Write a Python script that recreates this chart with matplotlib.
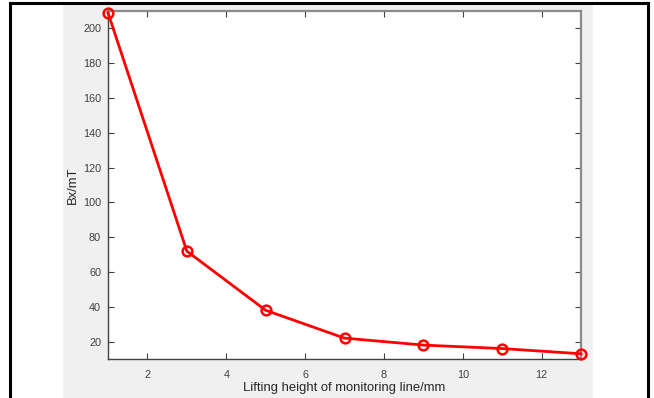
import matplotlib
matplotlib.use("Agg")
import matplotlib.pyplot as plt
from matplotlib.lines import Line2D

# Lifting height of the monitoring line (mm) and the measured Bx (mT)
heights = [1, 3, 5, 7, 9, 11, 13]
bx_values = [209, 72, 38, 22, 18, 16, 13]

x_ticks = [2, 4, 6, 8, 10, 12]
y_ticks = [20, 40, 60, 80, 100, 120, 140, 160, 180, 200]

x_label = "Lifting height of monitoring line/mm"
y_label = "Bx/mT"

W, H = 654, 398
fig = plt.figure(figsize=(W / 100, H / 100), dpi=100)
fig.patch.set_facecolor("white")
plt.rcParams["font.family"] = ["Liberation Sans", "DejaVu Sans"]

# grey figure panel
panel = plt.Rectangle((63 / W, 0), (593 - 63) / W, 1 - 4 / H,
                      transform=fig.transFigure, facecolor="#f0f0f0",
                      edgecolor="none", zorder=0)
fig.add_artist(panel)

# surrounding table rules
for xy in [([10 / W, 10 / W], [0, 1 - 3 / H]),
           ([648 / W, 648 / W], [0, 1 - 3 / H]),
           ([10 / W, 648 / W], [1 - 3 / H, 1 - 3 / H])]:
    fig.add_artist(Line2D(xy[0], xy[1], transform=fig.transFigure,
                          color="black", lw=2.2, zorder=5))

ax = fig.add_axes([108 / W, 1 - 359 / H, (581 - 108) / W, (359 - 11) / H])
ax.set_facecolor("white")
ax.plot(heights, bx_values, color="#ff0000", lw=2.0, marker="o",
        markersize=7, markerfacecolor="none", markeredgewidth=1.8,
        markeredgecolor="#ff0000", clip_on=False, zorder=4)

ax.set_xlim(1, 13)
ax.set_ylim(10, 210)
ax.set_xticks(x_ticks)
ax.set_yticks(y_ticks)
ax.tick_params(direction="in", length=4, width=0.8, colors="#404040",
               labelsize=7.8, top=True, right=True)
ax.tick_params(axis="x", pad=8)
ax.tick_params(axis="y", pad=5)
for lab in ax.get_xticklabels() + ax.get_yticklabels():
    lab.set_color("#404040")

for side in ["left", "bottom"]:
    ax.spines[side].set_color("#404040")
    ax.spines[side].set_linewidth(1.0)
for side in ["top", "right"]:
    ax.spines[side].set_color("#8a8a8a")
    ax.spines[side].set_linewidth(1.6)

ax.set_xlabel(x_label, fontsize=9.4, color="#262626", labelpad=1)
ax.set_ylabel(y_label, fontsize=9.4, color="#262626", labelpad=3)

fig.savefig("out.png", dpi=100)
